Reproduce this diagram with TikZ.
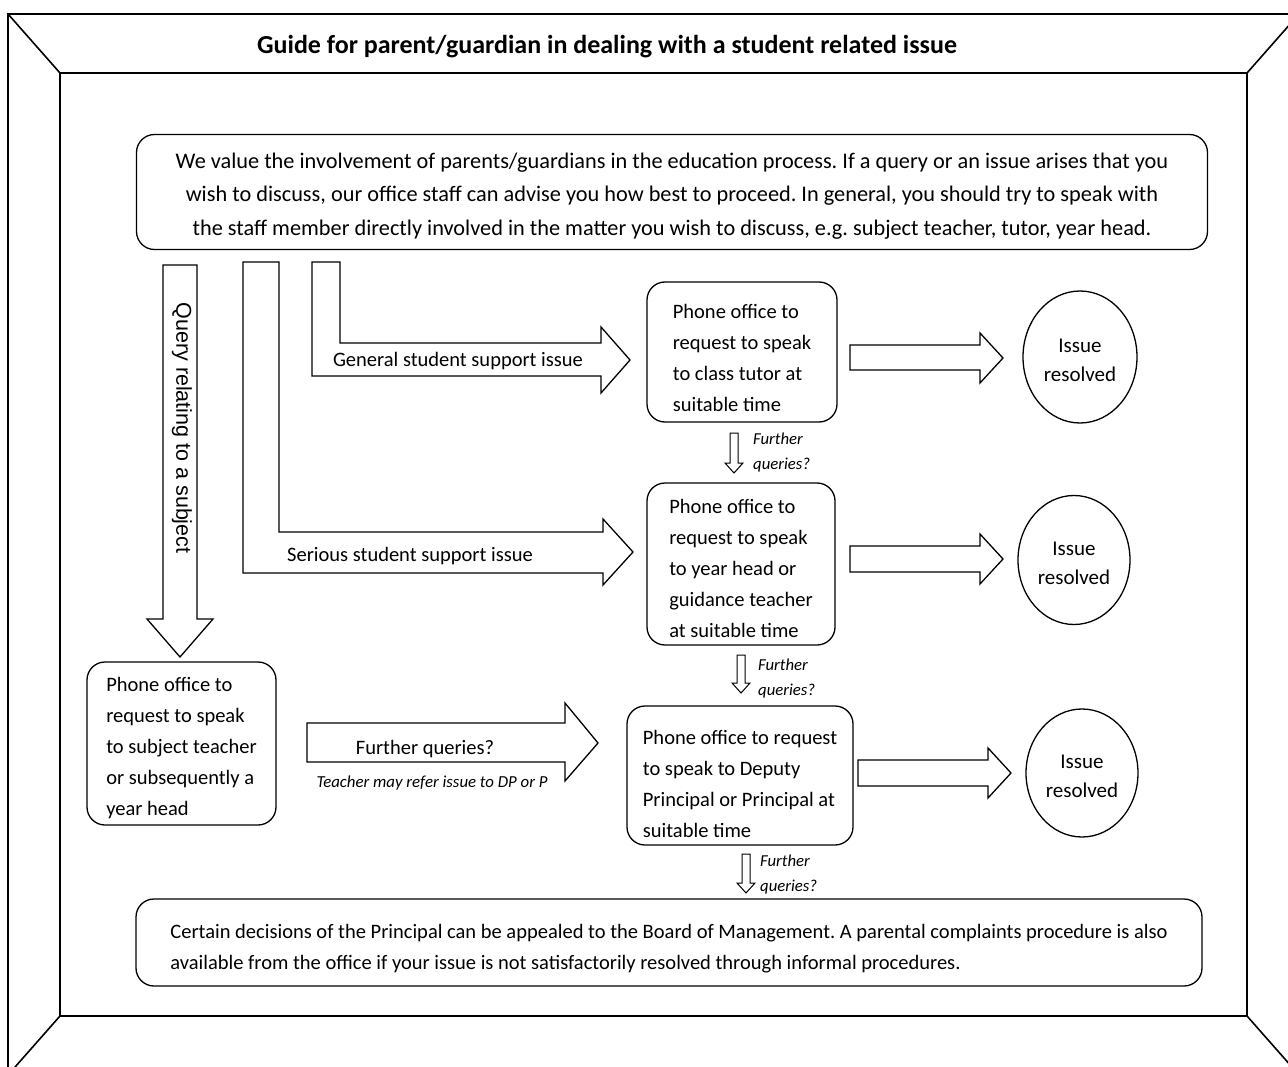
\documentclass[tikz,border=0pt]{standalone}
\usepackage{fontspec}
\setmainfont{Carlito}
\newfontfamily\arialfont{Liberation Sans}
\usetikzlibrary{shapes.geometric}
\frenchspacing
\begin{document}
\begin{tikzpicture}[x=1pt,y=-1pt,
  frame/.style={line width=1.6pt},
  box/.style={draw, line width=1.3pt, rounded corners=18pt, inner sep=0pt},
  btext/.style={align=left, inner sep=0pt, font=\fontsize{20.5}{31}\selectfont},
  blk/.style={draw, line width=1.3pt, fill=white, line join=miter},
  thin/.style={draw, line width=1pt, fill=white},
  circ/.style={draw, ellipse, line width=1.3pt, inner sep=0pt},
  ctext/.style={align=center, inner sep=0pt, font=\fontsize{21}{29}\selectfont},
  lbl/.style={font=\fontsize{20.5}{24}\selectfont},
  fq/.style={font=\fontsize{16.7}{25}\selectfont\itshape, align=left, anchor=west, inner sep=0pt}]
\useasboundingbox (0,0) rectangle (1288,1067);
\begin{scope}
\clip (0,0) rectangle (1288,1067);
\draw[frame] (8,14) rectangle (1299,1075);
\draw[frame] (60,73) rectangle (1247,1016);
\draw[frame] (8,14) -- (60,73) (1299,14) -- (1247,73) (8,1075) -- (60,1016) (1299,1075) -- (1247,1016);
\end{scope}
\node[font=\fontsize{26}{30}\selectfont\bfseries] (title) at (607,47) {Guide for parent/guardian in dealing with a student related issue};

\node[box, minimum width=1071pt, minimum height=115pt] (intro) at (672,192) {};
\node[align=center, inner sep=0pt, font=\fontsize{22.3}{33.5}\selectfont] (introt) at ([yshift=-4pt]intro.center)
 {We value the involvement of parents/guardians in the education process. If a query or an issue arises that you\\
  wish to discuss, our office staff can advise you how best to proceed. In general, you should try to speak with\\
  the staff member directly involved in the matter you wish to discuss, e.g. subject teacher, tutor, year head.};

% L-shaped arrows
\path[blk] (163,265) -- (197,265) -- (197,619) -- (213,619) -- (180,657) -- (147,619) -- (163,619) -- cycle;
\node[font=\arialfont\fontsize{21.5}{24}\selectfont, rotate=-90] (qlbl) at (182,428) {Query relating to a subject};
\path[blk] (243,262) -- (279,262) -- (279,532) -- (603,532) -- (603,519) -- (633,552) -- (603,585) -- (603,573) -- (243,573) -- cycle;
\node[lbl] (slbl) at (410,556) {Serious student support issue};
\path[blk] (312,262) -- (340,262) -- (340,343) -- (601,343) -- (601,327) -- (630,360) -- (601,393) -- (601,376) -- (312,376) -- cycle;
\node[lbl] (glbl) at (458,361) {General student support issue};

% boxes
\node[box, minimum width=190pt, minimum height=140pt] (b1) at (742,352) {};
\node[btext] (b1t) at ([yshift=-6pt]b1.center) {Phone office to\\request to speak\\to class tutor at\\suitable time};
\node[box, minimum width=188pt, minimum height=162pt] (b2) at (741,564) {};
\node[btext] (b2t) at ([yshift=-4pt]b2.center) {Phone office to\\request to speak\\to year head or\\guidance teacher\\at suitable time};
\node[box, minimum width=226pt, minimum height=139pt] (b3) at (740,775.5) {};
\node[btext] (b3t) at ([yshift=-8pt]b3.center) {Phone office to request\\to speak to Deputy\\Principal or Principal at\\suitable time};
\node[box, minimum width=189pt, minimum height=163pt] (bl) at (181.5,743.5) {};
\node[btext] (blt) at ([yshift=-5pt]bl.center) {Phone office to\\request to speak\\to subject teacher\\or subsequently a\\year head};

% circles
\node[circ, minimum width=114pt, minimum height=132pt] (c1) at (1080,357) {};
\node[ctext] (c1t) at ([yshift=-3pt]c1.center) {Issue\\resolved};
\node[circ, minimum width=112pt, minimum height=129pt] (c2) at (1074,560) {};
\node[ctext] (c2t) at ([yshift=-3pt]c2.center) {Issue\\resolved};
\node[circ, minimum width=112pt, minimum height=128pt] (c3) at (1082,773) {};
\node[ctext] (c3t) at ([yshift=-3pt]c3.center) {Issue\\resolved};

% right arrows
\path[blk] (850,345) -- (980,345) -- (980,333) -- (1003,358) -- (980,383) -- (980,370) -- (850,370) -- cycle;
\path[blk] (850,546) -- (980,546) -- (980,534) -- (1003,559) -- (980,584) -- (980,572) -- (850,572) -- cycle;
\path[blk] (858,760) -- (988,760) -- (988,748) -- (1011,773) -- (988,798) -- (988,786) -- (858,786) -- cycle;

% further queries big arrow
\path[blk] (307,723) -- (565,723) -- (565,703) -- (598,743) -- (565,781) -- (565,762) -- (307,762) -- cycle;
\node[lbl] (fqbig) at (425,749) {Further queries?};
\node[font=\fontsize{16.8}{18}\selectfont\itshape] (teach) at (432,783) {Teacher may refer issue to DP or P};

% small further-queries arrows
\path[thin] (730,433) -- (738,433) -- (738,463) -- (743,463) -- (734,473) -- (725,463) -- (730,463) -- cycle;
\node[fq] (fq1) at (753,453) {Further\\queries?};
\path[thin] (737,655) -- (745,655) -- (745,683) -- (750,683) -- (741,693) -- (732,683) -- (737,683) -- cycle;
\node[fq] (fq2) at (758,679) {Further\\queries?};
\path[thin] (742,854) -- (750,854) -- (750,883) -- (755,883) -- (746,893) -- (737,883) -- (742,883) -- cycle;
\node[fq] (fq3) at (760,875) {Further\\queries?};

\node[box, minimum width=1066pt, minimum height=87pt] (appeal) at (669,942.5) {};
\node[btext] (appealt) at ([yshift=-6pt]appeal.center)
 {Certain decisions of the Principal can be appealed to the Board of Management. A parental complaints procedure is also\\
  available from the office if your issue is not satisfactorily resolved through informal procedures.};
\end{tikzpicture}
\end{document}
